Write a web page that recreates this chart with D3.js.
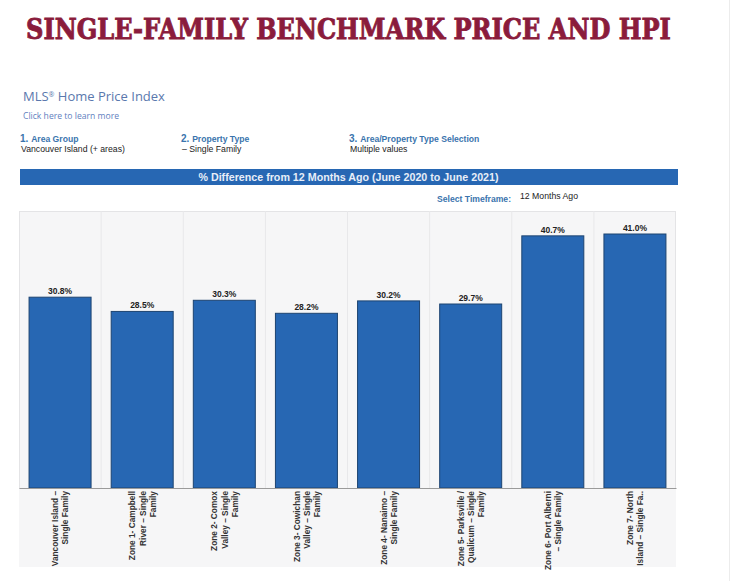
<!DOCTYPE html>
<html>
<head>
<meta charset="utf-8">
<script src="https://cdn.jsdelivr.net/npm/d3@7"></script>
<style>
  html, body { margin: 0; padding: 0; background: #fff; }
  svg { display: block; font-family: "Liberation Sans", Arial, sans-serif; }
</style>
</head>
<body>
<svg id="chart" width="732" height="581"></svg>
<script>
const categories = [
  "Vancouver Island – Single Family",
  "Zone 1- Campbell River – Single Family",
  "Zone 2- Comox Valley – Single Family",
  "Zone 3- Cowichan Valley – Single Family",
  "Zone 4- Nanaimo – Single Family",
  "Zone 5- Parksville / Qualicum – Single Family",
  "Zone 6- Port Alberni – Single Family",
  "Zone 7- North Island – Single Fa.."
];
const categoryLines = [
  ["Vancouver Island –", "Single Family"],
  ["Zone 1- Campbell", "River – Single", "Family"],
  ["Zone 2- Comox", "Valley – Single", "Family"],
  ["Zone 3- Cowichan", "Valley – Single", "Family"],
  ["Zone 4- Nanaimo –", "Single Family"],
  ["Zone 5- Parksville /", "Qualicum – Single", "Family"],
  ["Zone 6- Port Alberni", "– Single Family"],
  ["Zone 7- North", "Island – Single Fa.."]
];
const values = [30.8, 28.5, 30.3, 28.2, 30.2, 29.7, 40.7, 41.0];

const svg = d3.select("#chart");
const blue = "#2767b3";
const linkBlue = "#3a74ad";

// page frame on the right
svg.append("line").attr("x1", 729.5).attr("x2", 729.5).attr("y1", 0).attr("y2", 581)
  .attr("stroke", "#ececec");

// header: the slab title is wider than the column, so squeeze it horizontally to fit
const title = svg.append("text")
  .style("font-family", "'DejaVu Serif', serif").style("font-weight", "bold")
  .style("font-size", "27px").attr("fill", "#8a1c3c")
  .attr("stroke", "#8a1c3c").attr("stroke-width", 0.9)
  .text("SINGLE-FAMILY BENCHMARK PRICE AND HPI");
title.attr("transform", `translate(26,38.5) scale(${645 / title.node().getComputedTextLength()},1)`);

const mls = svg.append("text").attr("x", 23).attr("y", 101)
  .style("font-family", "'Open Sans', sans-serif").style("font-size", "13px").attr("fill", "#5a78ad");
mls.append("tspan").text("MLS");
mls.append("tspan").attr("dy", -4).style("font-size", "7px").text("®");
mls.append("tspan").attr("dy", 4).text(" Home Price Index");

svg.append("text").attr("x", 23).attr("y", 119)
  .style("font-family", "'Open Sans', sans-serif").style("font-size", "8.6px").attr("fill", "#5f7fc0")
  .text("Click here to learn more");

const filters = [
  { x: 20, num: "1.", head: "Area Group", value: "Vancouver Island (+ areas)", vx: 21 },
  { x: 181, num: "2.", head: "Property Type", value: "– Single Family", vx: 182 },
  { x: 349, num: "3.", head: "Area/Property Type Selection", value: "Multiple values", vx: 350 }
];
filters.forEach(f => {
  const t = svg.append("text").attr("x", f.x).attr("y", 142)
    .style("font-size", "8.6px").style("font-weight", "bold").attr("fill", linkBlue);
  t.append("tspan").style("font-size", "10px").text(f.num + " ");
  t.append("tspan").text(f.head);
  svg.append("text").attr("x", f.vx).attr("y", 152)
    .style("font-size", "8.7px").attr("fill", "#222").text(f.value);
});

// blue banner
svg.append("rect").attr("x", 20).attr("y", 169).attr("width", 658).attr("height", 16).attr("fill", blue);
svg.append("text").attr("x", 348.5).attr("y", 181).attr("text-anchor", "middle")
  .style("font-size", "10.7px").style("font-weight", "bold").attr("fill", "#e8eef8")
  .text("% Difference from 12 Months Ago (June 2020 to June 2021)");

svg.append("text").attr("x", 511).attr("y", 202).attr("text-anchor", "end")
  .style("font-size", "8.6px").style("font-weight", "bold").attr("fill", linkBlue)
  .text("Select Timeframe:");
svg.append("text").attr("x", 520).attr("y", 199)
  .style("font-size", "8.7px").attr("fill", "#222").text("12 Months Ago");

// chart
const margin = { top: 211, right: 56, bottom: 93, left: 19 };
const width = 732, height = 581;
const x = d3.scaleBand().domain(categories)
  .range([margin.left, width - margin.right]).paddingInner(0.245).paddingOuter(0.1225);
const step = x.step();
const y = d3.scaleLinear().domain([0, 41]).range([height - margin.bottom, 234]);

// panel background reaches under the axis labels
svg.append("rect").attr("x", margin.left).attr("y", margin.top)
  .attr("width", width - margin.left - margin.right).attr("height", 567 - margin.top)
  .attr("fill", "#f6f6f7");
svg.append("rect").attr("x", margin.left + 0.5).attr("y", margin.top + 0.5)
  .attr("width", width - margin.left - margin.right - 1).attr("height", y(0) - margin.top)
  .attr("fill", "none").attr("stroke", "#e4e4e6");

svg.append("g").selectAll("line").data(categories.slice(1)).join("line")
  .attr("x1", d => x(d) - (step - x.bandwidth()) / 2)
  .attr("x2", d => x(d) - (step - x.bandwidth()) / 2)
  .attr("y1", margin.top).attr("y2", y(0))
  .attr("stroke", "#e8e8ea");

svg.append("g").selectAll("rect").data(values).join("rect")
  .attr("x", (d, i) => x(categories[i]))
  .attr("y", d => y(d))
  .attr("width", x.bandwidth())
  .attr("height", d => y(0) - y(d))
  .attr("fill", blue).attr("stroke", "#1d4471").attr("stroke-width", 1);

svg.append("g").selectAll("text").data(values).join("text")
  .attr("x", (d, i) => x(categories[i]) + x.bandwidth() / 2)
  .attr("y", d => y(d) - 3)
  .attr("text-anchor", "middle")
  .style("font-size", "8.5px").style("font-weight", "bold").attr("fill", "#222")
  .text(d => d.toFixed(1) + "%");

const xAxis = svg.append("g").attr("transform", `translate(0,${y(0)})`)
  .call(d3.axisBottom(x).tickSize(0).tickFormat(""));
xAxis.select(".domain").attr("stroke", "#9a9a9a");
xAxis.selectAll(".tick text").remove();
xAxis.selectAll(".tick").each(function (d) {
  const lines = categoryLines[categories.indexOf(d)];
  const t = d3.select(this).append("text")
    .attr("transform", "rotate(-90)")
    .attr("text-anchor", "end")
    .style("font-size", "8.3px").style("font-weight", "bold").attr("fill", "#333");
  lines.forEach((line, i) => {
    t.append("tspan").attr("x", -3)
      .attr("y", 3.3 + (i - (lines.length - 1) / 2) * 10.2)
      .text(line);
  });
});
</script>
</body>
</html>
